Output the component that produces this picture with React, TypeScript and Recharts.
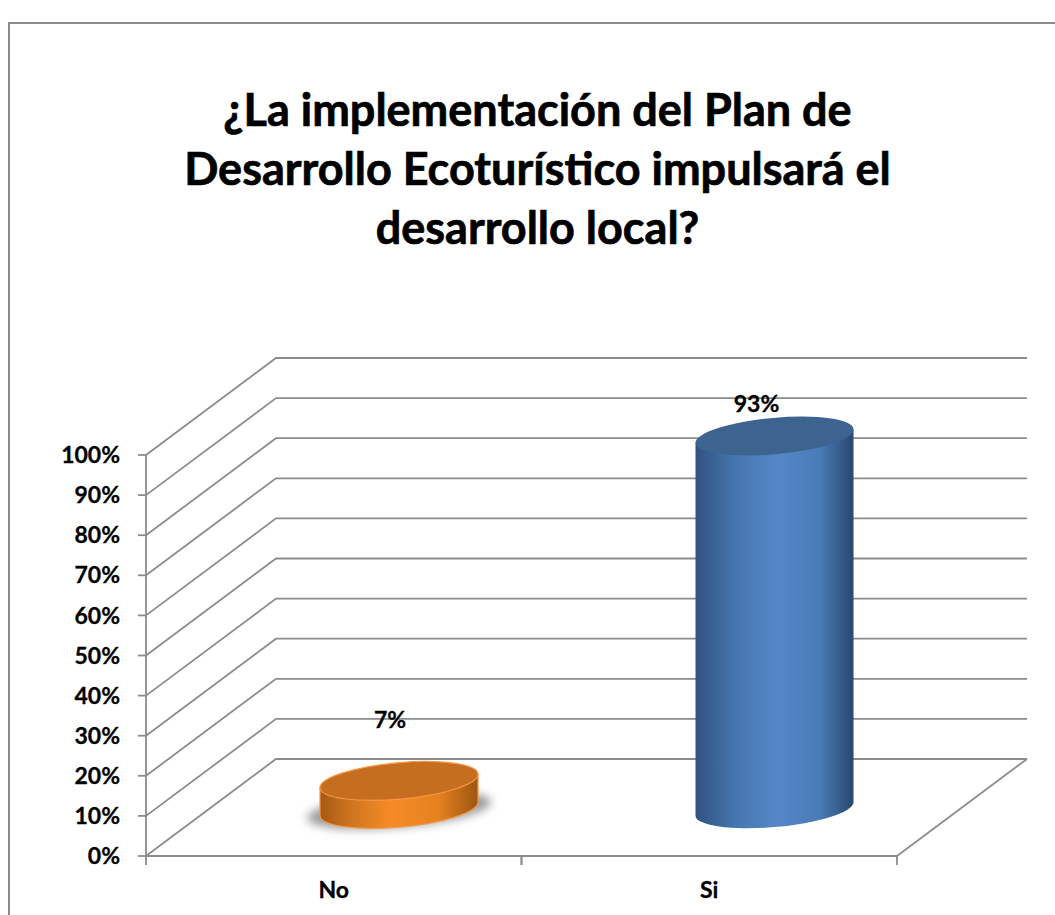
import { Bar, CartesianGrid, ComposedChart, LabelList, XAxis, YAxis } from 'recharts';

const CATEGORIES = ['No', 'Si'];
const VALUES = [7, 93];
const Y_TICKS = [0, 10, 20, 30, 40, 50, 60, 70, 80, 90, 100];
const TITLE_LINES = [
  '¿La implementación del Plan de',
  'Desarrollo Ecoturístico impulsará el',
  'desarrollo local?',
];

const WIDTH = 1055;
const HEIGHT = 915;
const FONT = 'Lato, sans-serif';
const LINE_COLOR = '#8c8c8c';
const TEXT_SIZE = 23;
// the fake 3d depth of the chart box
const DEPTH_X = 130;
const DEPTH_Y = 97;
const BAR_LIFT = 47;
const PLOT_LEFT = 146;
const PLOT_RIGHT = 158;
const BAND = (WIDTH - PLOT_LEFT - PLOT_RIGHT) / CATEGORIES.length;
// tilted ellipse of the cylinder caps
const RX = 79.3;
const RY = 18.2;
const TILT = -5.1;
const SIDE_X = 79;
const SIDE_Y = 6.7;

const chartData = CATEGORIES.map((name, i) => ({ name, value: VALUES[i] }));

const SKINS = [
  { gradient: 'url(#orangeBody)', top: '#c56e20', edge: '#f79646' },
  { gradient: 'url(#blueBody)', top: '#3d638f', edge: 'none' },
];
// labels were moved by hand in the original, so they sit differently per bar
const LABEL_NUDGE = [
  { dx: -9, dy: -109 },
  { dx: -18, dy: -80 },
];

function WallLine(props: any) {
  const { x1, y1, x2, y, height } = props;
  const isFloor = y1 >= y + height - 0.5;
  const points = `${x1},${y1} ${x1 + DEPTH_X},${y1 - DEPTH_Y} ${x2 + DEPTH_X},${y1 - DEPTH_Y}`;
  return (
    <g>
      <polyline points={points} fill="none" stroke={LINE_COLOR} strokeWidth={1.8} />
      {isFloor && (
        <line
          x1={x2}
          y1={y1}
          x2={x2 + DEPTH_X}
          y2={y1 - DEPTH_Y}
          stroke={LINE_COLOR}
          strokeWidth={1.8}
        />
      )}
    </g>
  );
}

function Cylinder(props: any) {
  const { x, y, width, height, index } = props;
  const skin = SKINS[index];
  const cx = x + width / 2 + DEPTH_X / 2;
  const topY = y - BAR_LIFT;
  const baseY = y + height - BAR_LIFT;
  const body = [
    `M${cx - SIDE_X},${topY + SIDE_Y}`,
    `L${cx - SIDE_X},${baseY + SIDE_Y}`,
    `A${RX} ${RY} ${TILT} 0 0 ${cx + SIDE_X},${baseY - SIDE_Y}`,
    `L${cx + SIDE_X},${topY - SIDE_Y}`,
    'Z',
  ].join(' ');
  return (
    <g>
      {index === 0 && (
        <ellipse
          cx={cx}
          cy={baseY + 1}
          rx={RX + 13}
          ry={RY - 1}
          transform={`rotate(${TILT} ${cx} ${baseY})`}
          fill="#9a9a9a"
          filter="url(#softShadow)"
        />
      )}
      <path d={body} fill={skin.gradient} stroke={skin.edge} strokeWidth={1.2} />
      <ellipse
        cx={cx}
        cy={topY}
        rx={RX}
        ry={RY}
        transform={`rotate(${TILT} ${cx} ${topY})`}
        fill={skin.top}
        stroke={skin.edge}
        strokeWidth={1.2}
      />
    </g>
  );
}

function CategoryTick(props: any) {
  const { x, y, payload } = props;
  return (
    <g>
      <line x1={x - BAND / 2} y1={y} x2={x - BAND / 2} y2={y + 9} stroke={LINE_COLOR} strokeWidth={1.8} />
      <line x1={x + BAND / 2} y1={y} x2={x + BAND / 2} y2={y + 9} stroke={LINE_COLOR} strokeWidth={1.8} />
      <text
        x={x}
        y={y + 42}
        textAnchor="middle"
        fontFamily={FONT}
        fontWeight={700}
        fontSize={TEXT_SIZE}
        fill="#000"
        stroke="#000"
        strokeWidth={0.3}
      >
        {payload.value}
      </text>
    </g>
  );
}

function ValueLabel(props: any) {
  const { x, y, width, value, index } = props;
  const nudge = LABEL_NUDGE[index];
  return (
    <text
      x={x + width / 2 + DEPTH_X / 2 + nudge.dx}
      y={y + nudge.dy}
      textAnchor="middle"
      dominantBaseline="central"
      fontFamily={FONT}
      fontWeight={700}
      fontSize={TEXT_SIZE}
      fill="#000"
      stroke="#000"
      strokeWidth={0.3}
    >
      {value}%
    </text>
  );
}

export default function App() {
  return (
    <div style={{ position: 'absolute', left: 0, top: 0, width: WIDTH, height: HEIGHT, background: '#fff', overflow: 'hidden' }}>
      <div
        style={{
          position: 'absolute',
          left: 8,
          top: 22,
          right: 0,
          bottom: 0,
          borderLeft: `2px solid ${LINE_COLOR}`,
          borderTop: `2px solid ${LINE_COLOR}`,
        }}
      />
      <div
        style={{
          position: 'absolute',
          left: 0,
          top: 80,
          width: 1075,
          textAlign: 'center',
          fontFamily: FONT,
          fontWeight: 700,
          fontSize: 45,
          lineHeight: '59px',
          color: '#000',
          WebkitTextStroke: '0.7px #000',
        }}
      >
        {TITLE_LINES.map((line) => (
          <div key={line}>{line}</div>
        ))}
      </div>
      <div style={{ position: 'absolute', left: 0, top: 0 }}>
        <ComposedChart
          width={WIDTH}
          height={HEIGHT}
          data={chartData}
          margin={{ top: 455, right: PLOT_RIGHT, bottom: 0, left: 0 }}
        >
          <defs>
            <linearGradient id="orangeBody" x1="0" y1="0" x2="1" y2="0">
              <stop offset="0%" stopColor="#a65a14" />
              <stop offset="22%" stopColor="#d27820" />
              <stop offset="45%" stopColor="#f68b27" />
              <stop offset="75%" stopColor="#e58120" />
              <stop offset="100%" stopColor="#9c5612" />
            </linearGradient>
            <linearGradient id="blueBody" x1="0" y1="0" x2="1" y2="0">
              <stop offset="0%" stopColor="#2f5380" />
              <stop offset="25%" stopColor="#4676ae" />
              <stop offset="52%" stopColor="#5487c8" />
              <stop offset="78%" stopColor="#4b7cb8" />
              <stop offset="100%" stopColor="#28486e" />
            </linearGradient>
            <filter id="softShadow" x="-20%" y="-60%" width="140%" height="220%">
              <feGaussianBlur stdDeviation="5" />
            </filter>
          </defs>
          <CartesianGrid horizontal={(p: any) => <WallLine key={p.index} {...p} />} vertical={false} />
          <XAxis
            dataKey="name"
            height={59}
            tickSize={0}
            tickMargin={0}
            tickLine={false}
            axisLine={{ stroke: LINE_COLOR, strokeWidth: 1.8 }}
            tick={<CategoryTick />}
            interval={0}
          />
          <YAxis
            domain={[0, 100]}
            ticks={Y_TICKS}
            width={PLOT_LEFT}
            tickSize={8}
            tickMargin={18}
            interval={0}
            tickFormatter={(v: number) => `${v}%`}
            axisLine={{ stroke: LINE_COLOR, strokeWidth: 1.8 }}
            tickLine={{ stroke: LINE_COLOR, strokeWidth: 1.8 }}
            tick={{ fontFamily: FONT, fontWeight: 700, fontSize: TEXT_SIZE, fill: '#000', stroke: '#000', strokeWidth: 0.3 }}
          />
          <Bar dataKey="value" barSize={158} shape={<Cylinder />} isAnimationActive={false}>
            <LabelList dataKey="value" content={<ValueLabel />} />
          </Bar>
        </ComposedChart>
      </div>
    </div>
  );
}
